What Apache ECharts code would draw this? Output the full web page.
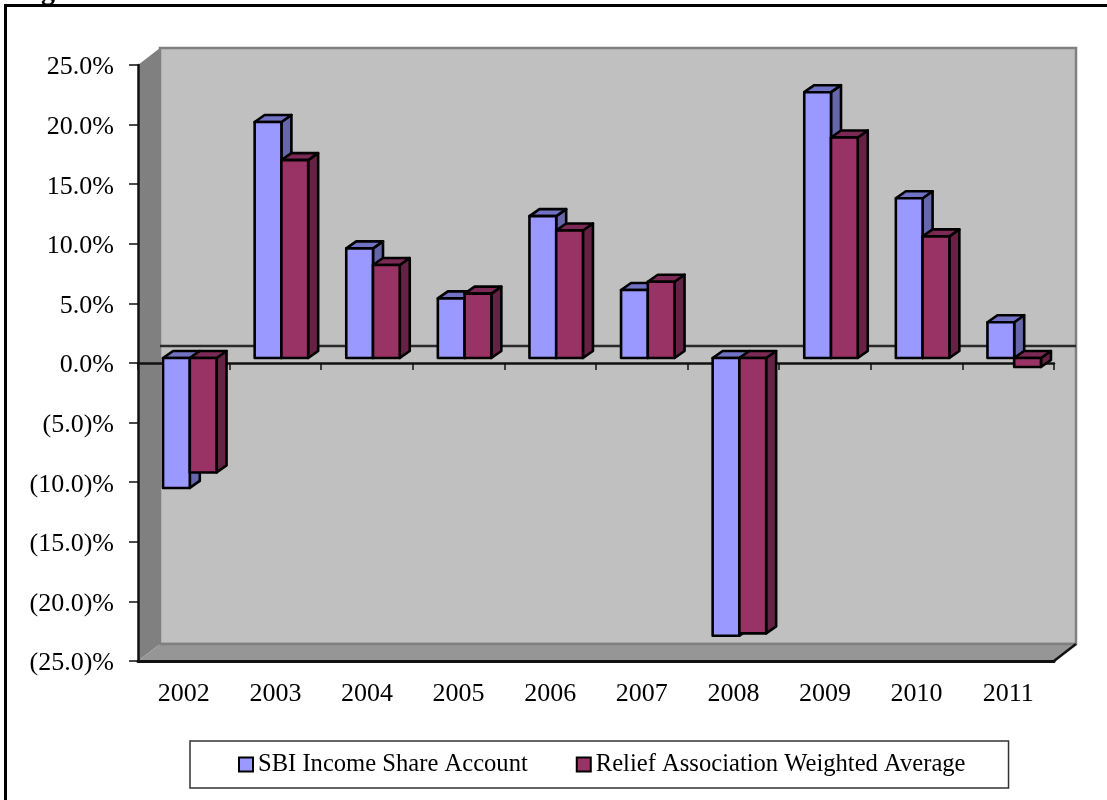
<!DOCTYPE html>
<html><head><meta charset="utf-8">
<style>html,body{margin:0;padding:0;background:#fff}#c{width:1107px;height:800px}</style>
<script src="https://cdn.jsdelivr.net/npm/echarts@6/dist/echarts.min.js"></script>
</head><body><div id="c"></div>
<script>
const years = ['2002','2003','2004','2005','2006','2007','2008','2009','2010','2011'];
const sbiIncome = [-10.9, 19.8, 9.2, 5.0, 11.9, 5.7, -23.3, 22.3, 13.4, 3.0];
const reliefAvg = [-9.6, 16.6, 7.8, 5.4, 10.7, 6.4, -23.1, 18.5, 10.2, -0.75];
const FONT = '"Liberation Serif","Times New Roman",serif';
const chart = echarts.init(document.getElementById('c'));

function fmt(v){
  if (v < 0) return '(' + Math.abs(v).toFixed(1) + ')%';
  return v.toFixed(1) + '%';
}
const wallDX = 22, wallDY = -17;
function renderWalls(params, api){
  const g = params.coordSys;
  const x0 = g.x, x1 = g.x + g.width, y0 = g.y, y1 = g.y + g.height;
  const zeroY = api.coord([0, 0])[1];
  const poly = (pts, fill, stroke, lw) => ({type:'polygon', shape:{points:pts}, style:{fill, stroke:stroke||fill, lineWidth:lw||0}});
  const line = (a, b, c, lw) => ({type:'line', shape:{x1:a[0],y1:a[1],x2:b[0],y2:b[1]}, style:{stroke:c, lineWidth:lw}});
  return {type:'group', children:[
    poly([[x0+wallDX,y0+wallDY],[x1+wallDX,y0+wallDY],[x1+wallDX,y1+wallDY],[x0+wallDX,y1+wallDY]], '#c0c0c0', '#808080', 2.5),
    poly([[x0,y0],[x0+wallDX,y0+wallDY],[x0+wallDX,y1+wallDY],[x0,y1]], '#808080'),
    poly([[x0,y1],[x1,y1],[x1+wallDX,y1+wallDY],[x0+wallDX,y1+wallDY]], '#969696'),
    line([x0+wallDX,y1+wallDY],[x1+wallDX,y1+wallDY],'#808080',2.5),
    line([x1,y1],[x1+wallDX,y1+wallDY],'#111',2.5),
    line([x0+wallDX,zeroY+wallDY],[x1+wallDX,zeroY+wallDY],'#2a2a2a',2.5)
  ]};
}
const barDX = 10, barDY = -7, shiftX = 6, shiftY = -5, barFrac = 0.292;
function barRenderer(side, front, sideCol, topCol){
  return function(params, api){
    const c = api.value(0), v = api.value(1);
    const catW = api.size([1,0])[0];
    const w = catW * barFrac;
    const base = api.coord([c, 0]);
    const tip = api.coord([c, v]);
    const xa = base[0] + shiftX + (side === 0 ? -w : 0);
    const xb = xa + w;
    const ya = Math.min(base[1], tip[1]) + shiftY;
    const yb = Math.max(base[1], tip[1]) + shiftY;
    const st = f => ({fill:f, stroke:'#000', lineWidth:2.6, lineJoin:'round'});
    return {type:'group', children:[
      {type:'polygon', shape:{points:[[xb,ya],[xb+barDX,ya+barDY],[xb+barDX,yb+barDY],[xb,yb]]}, style:st(sideCol)},
      {type:'polygon', shape:{points:[[xa,ya],[xa+barDX,ya+barDY],[xb+barDX,ya+barDY],[xb,ya]]}, style:st(topCol)},
      {type:'rect', shape:{x:xa,y:ya,width:w,height:yb-ya}, style:st(front)}
    ]};
  };
}
const toData = arr => arr.map((v,i)=>[i,v]);
chart.setOption({
  animation:false,
  backgroundColor:'#fff',
  title:{text:'Figure', left:11, top:-27, textStyle:{fontFamily:FONT, fontSize:28, fontWeight:'bold', color:'#000'}},
  grid:{left:138, right:53, top:65, bottom:139, containLabel:false},
  legend:{
    data:['SBI Income Share Account','Relief Association Weighted Average'],
    left:190, top:741, orient:'horizontal',
    borderColor:'#333', borderWidth:1.5, backgroundColor:'#fff',
    padding:[11,43,11,48], itemGap:48, itemWidth:14, itemHeight:14, icon:'rect',
    textStyle:{fontFamily:FONT, fontSize:24.6, color:'#000'}
  },
  xAxis:[
    {type:'category', data:years, position:'bottom', z:5,
     axisLine:{onZero:false, lineStyle:{color:'#111', width:3}}, axisTick:{show:false},
     axisLabel:{fontFamily:FONT, fontSize:26, color:'#000', margin:20}},
    {type:'category', data:years, position:'bottom', z:5,
     axisLine:{onZero:true, lineStyle:{color:'#111', width:2.5}}, axisTick:{show:true, length:7, lineStyle:{color:'#111', width:1.5}},
     axisLabel:{show:false}}
  ],
  yAxis:{type:'value', min:-25, max:25, interval:5, z:5,
    axisLine:{show:true, onZero:false, lineStyle:{color:'#111', width:2.5}},
    axisTick:{show:true, length:9, lineStyle:{color:'#111', width:1.5}},
    splitLine:{show:false},
    axisLabel:{fontFamily:FONT, fontSize:26, color:'#000', margin:24, verticalAlign:'top', lineHeight:5, formatter:fmt}},
  series:[
    {name:'walls', type:'custom', z:1, silent:true, data:[[0,0]], encode:{x:0,y:1}, renderItem:renderWalls},
    {name:'zero-axis-anchor', type:'custom', xAxisIndex:1, z:1, silent:true, data:[], renderItem:()=>null},
    {name:'SBI Income Share Account', type:'custom', z:10, data:toData(sbiIncome), encode:{x:0,y:1},
     renderItem:barRenderer(0,'#9999ff','#6666aa','#7272c4'),
     itemStyle:{color:'#9999ff', borderColor:'#000', borderWidth:2.5}},
    {name:'Relief Association Weighted Average', type:'custom', z:11, data:toData(reliefAvg), encode:{x:0,y:1},
     renderItem:barRenderer(1,'#993366','#662244','#7c2955'),
     itemStyle:{color:'#993366', borderColor:'#000', borderWidth:2.5}}
  ],
  graphic:[{type:'polyline', z:100, silent:true, shape:{points:[[5.5,800],[5.5,5.5],[1107,5.5]]}, style:{stroke:'#000', lineWidth:3, fill:null}}]
});
</script></body></html>
